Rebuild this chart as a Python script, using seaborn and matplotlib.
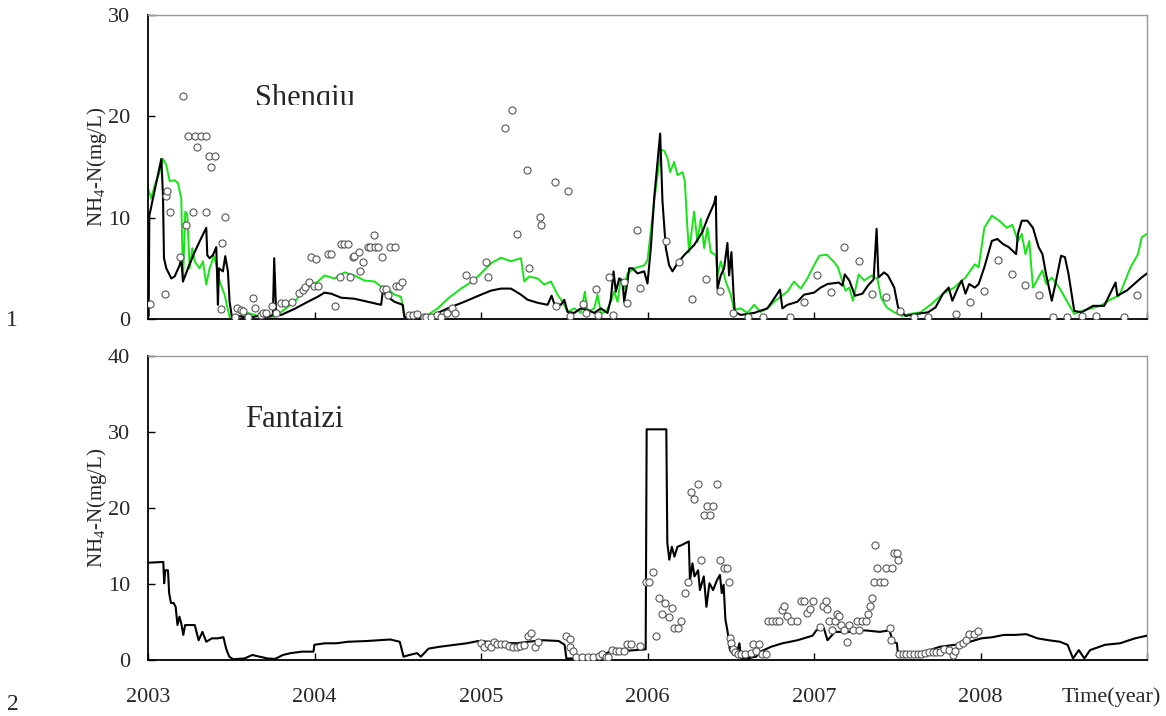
import numpy as np
import pandas as pd
import matplotlib
matplotlib.use("Agg")
import matplotlib.pyplot as plt
import seaborn as sns
from matplotlib.transforms import Bbox, TransformedBbox

# ---------------- data (decimal year, NH4-N mg/L) ----------------
# Panel 1: Shenqiu, simulated (black)
sq_black_year = [2003.004, 2003.008, 2003.080, 2003.090, 2003.096, 2003.110, 2003.140, 2003.160, 2003.190, 2003.200,
                 2003.210, 2003.240, 2003.280, 2003.320, 2003.350, 2003.356, 2003.370, 2003.390, 2003.410, 2003.420,
                 2003.426, 2003.450, 2003.464, 2003.480, 2003.490, 2003.504, 2003.540, 2003.600, 2003.660, 2003.720,
                 2003.750, 2003.758, 2003.770, 2003.800, 2003.880, 2003.960, 2004.020, 2004.060, 2004.100, 2004.160,
                 2004.240, 2004.320, 2004.400, 2004.410, 2004.440, 2004.480, 2004.530, 2004.540, 2004.600, 2004.700,
                 2004.800, 2004.900, 2005.000, 2005.060, 2005.120, 2005.180, 2005.240, 2005.280, 2005.340, 2005.400,
                 2005.424, 2005.440, 2005.480, 2005.500, 2005.520, 2005.560, 2005.600, 2005.640, 2005.680, 2005.720,
                 2005.760, 2005.780, 2005.796, 2005.810, 2005.830, 2005.850, 2005.860, 2005.880, 2005.890, 2005.910,
                 2005.940, 2005.980, 2006.000, 2006.020, 2006.040, 2006.076, 2006.090, 2006.110, 2006.130, 2006.150,
                 2006.180, 2006.220, 2006.280, 2006.330, 2006.360, 2006.400, 2006.410, 2006.420, 2006.440, 2006.460,
                 2006.480, 2006.490, 2006.504, 2006.516, 2006.524, 2006.560, 2006.640, 2006.720, 2006.760, 2006.796,
                 2006.810, 2006.840, 2006.900, 2006.940, 2007.000, 2007.040, 2007.081, 2007.149, 2007.171, 2007.185,
                 2007.212, 2007.246, 2007.291, 2007.324, 2007.358, 2007.376, 2007.387, 2007.421, 2007.444, 2007.482,
                 2007.505, 2007.550, 2007.617, 2007.685, 2007.730, 2007.775, 2007.809, 2007.831, 2007.865, 2007.887,
                 2007.910, 2007.932, 2007.966, 2007.989, 2008.023, 2008.068, 2008.101, 2008.135, 2008.169, 2008.214,
                 2008.225, 2008.248, 2008.282, 2008.315, 2008.349, 2008.372, 2008.394, 2008.428, 2008.450, 2008.484,
                 2008.507, 2008.529, 2008.563, 2008.608, 2008.676, 2008.743, 2008.811, 2008.822, 2008.878, 2008.923,
                 2008.968, 2009.000]
sq_black_val = [0.3, 10.2, 15.8, 12.2, 6.0, 5.0, 4.0, 4.2, 5.3, 6.0,
                3.7, 5.0, 6.6, 8.0, 9.0, 6.3, 6.0, 6.3, 7.1, 1.4,
                5.0, 4.7, 6.2, 4.7, 1.7, 0.2, 0.3, 0.1, 0.3, 0.2,
                0.4, 6.0, 0.4, 0.4, 1.0, 1.7, 2.2, 2.6, 2.5, 2.1,
                2.0, 1.7, 1.4, 2.7, 2.2, 1.7, 1.4, 0.2, 0.2, 0.3,
                1.05, 1.7, 2.4, 2.8, 3.0, 3.0, 2.4, 1.9, 1.6, 1.4,
                2.3, 1.5, 1.4, 1.9, 0.7, 0.6, 1.05, 0.9, 0.6, 1.05,
                0.6, 2.0, 4.7, 2.7, 4.0, 3.7, 1.7, 3.7, 5.0, 5.0,
                4.5, 4.7, 3.5, 7.0, 11.9, 18.3, 11.6, 7.0, 5.3, 4.7,
                5.5, 6.3, 7.3, 8.6, 9.9, 11.4, 12.1, 3.0, 4.3, 5.0,
                7.5, 4.3, 6.6, 2.7, 0.7, 0.4, 0.6, 1.05, 2.0, 2.9,
                1.05, 1.4, 1.7, 2.4, 2.6, 3.1, 3.45, 3.6, 3.3, 4.4,
                3.8, 2.3, 2.5, 3.3, 3.9, 8.9, 4.1, 4.6, 4.3, 3.1,
                1.15, 0.3, 0.5, 0.66, 1.15, 2.5, 3.1, 1.8, 3.1, 3.8,
                2.5, 3.45, 3.1, 3.45, 5.1, 7.7, 7.9, 7.4, 7.1, 6.4,
                8.4, 9.7, 9.7, 9.0, 7.1, 6.4, 4.4, 1.8, 3.45, 6.25,
                6.1, 4.4, 0.8, 0.66, 1.3, 1.3, 3.6, 2.3, 2.8, 3.45,
                4.1, 4.5]

# Panel 1: Shenqiu, simulated (green)
sq_green_year = [2003.000, 2003.020, 2003.040, 2003.070, 2003.090, 2003.110, 2003.130, 2003.160, 2003.180, 2003.200,
                 2003.210, 2003.224, 2003.236, 2003.250, 2003.266, 2003.280, 2003.310, 2003.330, 2003.350, 2003.370,
                 2003.396, 2003.416, 2003.430, 2003.460, 2003.490, 2003.520, 2003.600, 2003.680, 2003.760, 2003.800,
                 2003.880, 2003.940, 2004.020, 2004.060, 2004.120, 2004.180, 2004.240, 2004.300, 2004.360, 2004.400,
                 2004.440, 2004.480, 2004.520, 2004.540, 2004.600, 2004.680, 2004.740, 2004.800, 2004.880, 2004.960,
                 2005.000, 2005.060, 2005.120, 2005.180, 2005.240, 2005.260, 2005.290, 2005.340, 2005.380, 2005.420,
                 2005.460, 2005.490, 2005.520, 2005.560, 2005.600, 2005.624, 2005.640, 2005.680, 2005.700, 2005.720,
                 2005.750, 2005.780, 2005.800, 2005.820, 2005.840, 2005.860, 2005.880, 2005.920, 2005.980, 2006.000,
                 2006.040, 2006.080, 2006.100, 2006.120, 2006.136, 2006.160, 2006.180, 2006.210, 2006.224, 2006.240,
                 2006.250, 2006.280, 2006.300, 2006.320, 2006.340, 2006.360, 2006.380, 2006.410, 2006.420, 2006.440,
                 2006.470, 2006.500, 2006.520, 2006.560, 2006.600, 2006.640, 2006.680, 2006.720, 2006.760, 2006.800,
                 2006.840, 2006.880, 2006.920, 2006.960, 2007.000, 2007.032, 2007.077, 2007.122, 2007.144, 2007.167,
                 2007.189, 2007.212, 2007.234, 2007.268, 2007.302, 2007.347, 2007.381, 2007.403, 2007.437, 2007.482,
                 2007.527, 2007.572, 2007.640, 2007.707, 2007.775, 2007.842, 2007.910, 2007.966, 2007.989, 2008.023,
                 2008.068, 2008.113, 2008.158, 2008.191, 2008.225, 2008.248, 2008.270, 2008.293, 2008.315, 2008.338,
                 2008.372, 2008.394, 2008.428, 2008.473, 2008.518, 2008.563, 2008.608, 2008.653, 2008.721, 2008.788,
                 2008.833, 2008.901, 2008.946, 2008.968, 2009.000]
sq_green_val = [12.9, 11.9, 13.2, 14.5, 15.8, 15.2, 13.6, 13.7, 13.4, 11.9,
                3.7, 10.6, 10.3, 5.0, 7.0, 5.7, 5.0, 5.7, 3.4, 5.0,
                6.2, 5.0, 3.7, 2.4, 0.2, 0.1, 0.6, 0.2, 0.2, 0.7,
                1.7, 2.9, 3.7, 4.3, 4.0, 4.6, 4.3, 3.8, 3.7, 3.2,
                3.0, 2.4, 2.2, 0.2, 0.2, 0.4, 1.05, 2.0, 3.0, 3.85,
                4.5, 5.5, 6.05, 5.7, 6.0, 3.7, 4.2, 4.0, 3.4, 3.7,
                2.4, 1.7, 0.7, 1.05, 0.6, 2.7, 0.7, 1.05, 2.4, 0.6,
                0.7, 1.7, 2.7, 1.7, 4.0, 3.0, 4.5, 5.0, 5.3, 5.8,
                11.6, 16.7, 16.6, 15.9, 14.5, 15.5, 14.2, 14.5, 13.6, 8.9,
                6.6, 10.6, 7.6, 9.9, 7.0, 9.0, 6.6, 6.3, 4.3, 5.7,
                3.7, 2.4, 0.9, 1.05, 0.6, 1.4, 0.7, 1.05, 1.7, 2.2,
                2.7, 3.7, 3.0, 4.0, 5.3, 6.25, 6.35, 5.6, 5.1, 3.9,
                2.8, 3.1, 1.8, 4.4, 3.8, 4.3, 3.95, 2.1, 1.15, 0.66,
                0.3, 0.5, 0.66, 1.5, 2.5, 3.1, 4.1, 5.4, 5.1, 9.0,
                10.2, 9.7, 9.0, 9.3, 7.7, 8.4, 6.4, 7.7, 3.1, 3.8,
                4.8, 3.45, 4.1, 3.1, 1.8, 0.5, 0.8, 1.0, 1.3, 2.0,
                2.3, 5.1, 6.4, 8.06, 8.4]

# Panel 1: Shenqiu, observed (circles)
sq_obs_year = [2003.010, 2003.104, 2003.110, 2003.116, 2003.134, 2003.190, 2003.210, 2003.230, 2003.240, 2003.270,
               2003.284, 2003.294, 2003.320, 2003.346, 2003.350, 2003.364, 2003.380, 2003.404, 2003.436, 2003.444,
               2003.460, 2003.520, 2003.532, 2003.556, 2003.570, 2003.600, 2003.630, 2003.640, 2003.680, 2003.690,
               2003.710, 2003.744, 2003.766, 2003.796, 2003.824, 2003.864, 2003.904, 2003.930, 2003.944, 2003.964,
               2003.980, 2003.996, 2004.010, 2004.024, 2004.080, 2004.100, 2004.126, 2004.156, 2004.160, 2004.180,
               2004.200, 2004.212, 2004.230, 2004.240, 2004.270, 2004.274, 2004.294, 2004.324, 2004.336, 2004.360,
               2004.362, 2004.380, 2004.404, 2004.410, 2004.430, 2004.440, 2004.456, 2004.484, 2004.490, 2004.510,
               2004.526, 2004.570, 2004.590, 2004.616, 2004.656, 2004.670, 2004.700, 2004.736, 2004.760, 2004.794,
               2004.824, 2004.844, 2004.910, 2004.950, 2005.030, 2005.040, 2005.144, 2005.186, 2005.216, 2005.274,
               2005.290, 2005.356, 2005.360, 2005.442, 2005.452, 2005.524, 2005.536, 2005.610, 2005.630, 2005.690,
               2005.704, 2005.770, 2005.792, 2005.860, 2005.876, 2005.936, 2005.954, 2006.114, 2006.188, 2006.268,
               2006.350, 2006.436, 2006.516, 2006.604, 2006.692, 2006.856, 2006.940, 2007.018, 2007.104, 2007.182,
               2007.268, 2007.349, 2007.432, 2007.518, 2007.601, 2007.687, 2007.854, 2007.937, 2008.022, 2008.104,
               2008.187, 2008.268, 2008.354, 2008.437, 2008.518, 2008.608, 2008.694, 2008.860, 2008.941]
sq_obs_val = [1.45, 2.5, 12.1, 12.6, 10.6, 6.15, 22.0, 9.3, 18.1, 10.6,
              18.1, 17.0, 18.1, 10.6, 18.1, 16.1, 15.0, 16.1, 0.95, 7.5,
              10.1, 0.2, 1.1, 0.9, 0.8, 0.2, 2.1, 1.1, 0.4, 0.55,
              0.55, 1.3, 0.6, 1.6, 1.6, 1.7, 2.6, 2.9, 3.2, 3.7,
              6.1, 3.3, 5.9, 3.3, 6.45, 6.45, 1.3, 4.1, 7.4, 7.4,
              7.4, 4.1, 6.1, 6.2, 6.65, 4.7, 5.6, 7.1, 7.1, 8.3,
              7.1, 7.1, 6.1, 3.0, 3.0, 2.4, 7.1, 7.1, 3.3, 3.3,
              3.7, 0.4, 0.4, 0.5, 0.2, 0.2, 0.2, 0.4, 0.2, 0.6,
              1.05, 0.6, 4.3, 3.8, 5.6, 4.1, 18.8, 20.6, 8.35, 14.7,
              5.0, 10.1, 9.3, 13.5, 1.3, 12.6, 0.3, 1.5, 0.6, 3.0,
              0.4, 4.1, 0.4, 3.7, 1.6, 8.8, 3.1, 7.7, 5.6, 2.0,
              3.9, 2.8, 0.6, 0.2, 0.2, 0.2, 1.7, 4.3, 2.7, 7.1,
              5.7, 2.5, 2.2, 0.8, 0.2, 0.2, 0.5, 1.7, 2.8, 5.8,
              4.4, 3.4, 2.4, 0.2, 0.2, 0.3, 0.3, 0.2, 2.4]

# Panel 2: Fantaizi, simulated (black)
ft_sim_year = [2003.000, 2003.092, 2003.097, 2003.104, 2003.120, 2003.127, 2003.138, 2003.154, 2003.166, 2003.177,
               2003.189, 2003.200, 2003.212, 2003.223, 2003.258, 2003.281, 2003.304, 2003.327, 2003.350, 2003.384,
               2003.419, 2003.453, 2003.469, 2003.488, 2003.511, 2003.580, 2003.626, 2003.718, 2003.764, 2003.810,
               2003.856, 2003.925, 2003.994, 2003.999, 2004.063, 2004.132, 2004.201, 2004.316, 2004.385, 2004.455,
               2004.512, 2004.535, 2004.570, 2004.616, 2004.639, 2004.685, 2004.754, 2004.846, 2004.915, 2004.984,
               2005.099, 2005.214, 2005.283, 2005.375, 2005.467, 2005.502, 2005.513, 2005.559, 2005.595, 2005.730,
               2005.775, 2005.865, 2005.989, 2005.995, 2006.113, 2006.119, 2006.131, 2006.146, 2006.162, 2006.180,
               2006.203, 2006.248, 2006.255, 2006.270, 2006.282, 2006.304, 2006.315, 2006.338, 2006.354, 2006.372,
               2006.394, 2006.417, 2006.435, 2006.446, 2006.457, 2006.468, 2006.480, 2006.495, 2006.518, 2006.541,
               2006.552, 2006.563, 2006.597, 2006.653, 2006.676, 2006.698, 2006.743, 2006.811, 2006.901, 2006.991,
               2007.014, 2007.059, 2007.081, 2007.126, 2007.216, 2007.306, 2007.396, 2007.453, 2007.475, 2007.498,
               2007.505, 2007.554, 2007.667, 2007.757, 2007.847, 2007.937, 2008.005, 2008.072, 2008.140, 2008.207,
               2008.275, 2008.342, 2008.410, 2008.477, 2008.523, 2008.556, 2008.590, 2008.624, 2008.658, 2008.748,
               2008.838, 2008.928, 2009.000]
ft_sim_val = [12.8, 12.9, 10.1, 11.8, 11.8, 8.8, 7.5, 7.5, 7.0, 4.6,
              5.7, 4.8, 3.3, 4.6, 4.6, 4.6, 2.6, 3.7, 2.4, 2.85,
              2.85, 3.0, 1.5, 0.44, 0.1, 0.2, 0.66, 0.2, 0.15, 0.66,
              0.9, 1.1, 1.1, 2.0, 2.2, 2.2, 2.4, 2.5, 2.6, 2.7,
              2.4, 0.44, 0.66, 0.9, 0.44, 1.5, 1.75, 2.0, 2.2, 2.5,
              2.3, 2.2, 2.4, 2.6, 2.5, 2.0, 0.2, 0.2, 0.2, 0.66,
              1.1, 1.2, 1.4, 30.35, 30.35, 15.4, 13.2, 14.9, 13.6, 14.9,
              15.1, 15.6, 10.5, 12.7, 11.0, 11.8, 9.2, 11.0, 7.0, 10.1,
              9.2, 10.5, 11.2, 8.8, 9.9, 5.3, 3.9, 1.3, 0.66, 1.3,
              2.2, 0.2, 0.2, 0.44, 1.1, 1.3, 1.75, 2.2, 2.6, 3.2,
              3.9, 4.2, 2.6, 3.7, 3.7, 3.9, 3.7, 3.9, 2.4, 2.2,
              0.66, 0.66, 1.1, 1.75, 2.0, 2.4, 2.85, 3.0, 3.3, 3.3,
              3.4, 2.85, 2.6, 2.4, 2.0, 0.2, 1.3, 0.2, 1.3, 2.0,
              2.2, 2.85, 3.2]

# Panel 2: Fantaizi, observed (circles)
ft_obs_year = [2005.000, 2005.018, 2005.041, 2005.060, 2005.076, 2005.099, 2005.122, 2005.145, 2005.168, 2005.191,
               2005.214, 2005.237, 2005.260, 2005.283, 2005.301, 2005.325, 2005.341, 2005.513, 2005.532, 2005.536,
               2005.550, 2005.571, 2005.605, 2005.640, 2005.674, 2005.707, 2005.725, 2005.748, 2005.764, 2005.786,
               2005.809, 2005.831, 2005.860, 2005.876, 2005.899, 2005.955, 2005.989, 2006.011, 2006.034, 2006.052,
               2006.068, 2006.090, 2006.108, 2006.128, 2006.146, 2006.162, 2006.185, 2006.203, 2006.225, 2006.243,
               2006.264, 2006.282, 2006.302, 2006.320, 2006.338, 2006.360, 2006.378, 2006.396, 2006.419, 2006.435,
               2006.457, 2006.477, 2006.491, 2006.493, 2006.502, 2006.514, 2006.523, 2006.541, 2006.563, 2006.586,
               2006.620, 2006.631, 2006.653, 2006.669, 2006.687, 2006.709, 2006.725, 2006.748, 2006.770, 2006.788,
               2006.806, 2006.822, 2006.840, 2006.860, 2006.896, 2006.919, 2006.939, 2006.957, 2006.975, 2006.995,
               2007.036, 2007.052, 2007.070, 2007.081, 2007.092, 2007.108, 2007.126, 2007.137, 2007.149, 2007.164,
               2007.182, 2007.198, 2007.212, 2007.234, 2007.257, 2007.273, 2007.291, 2007.311, 2007.324, 2007.336,
               2007.347, 2007.358, 2007.369, 2007.381, 2007.396, 2007.419, 2007.430, 2007.455, 2007.464, 2007.468,
               2007.482, 2007.498, 2007.505, 2007.509, 2007.532, 2007.554, 2007.577, 2007.599, 2007.622, 2007.644,
               2007.667, 2007.689, 2007.712, 2007.734, 2007.757, 2007.779, 2007.813, 2007.836, 2007.847, 2007.869,
               2007.892, 2007.914, 2007.932, 2007.959, 2007.986]
ft_obs_val = [2.2, 1.75, 2.05, 1.75, 2.4, 2.1, 2.1, 2.1, 1.85, 1.65,
              1.65, 1.85, 2.0, 3.1, 3.6, 1.75, 2.4, 3.2, 2.7, 1.75,
              1.2, 0.45, 0.35, 0.35, 0.45, 0.5, 0.8, 0.35, 0.45, 1.3,
              1.2, 1.2, 1.2, 2.1, 2.1, 1.85, 10.2, 10.2, 11.6, 3.2,
              8.2, 6.1, 7.5, 5.7, 6.9, 4.2, 4.2, 5.1, 8.8, 10.2,
              22.1, 21.2, 23.2, 13.2, 19.1, 20.2, 19.1, 20.2, 23.2, 13.2,
              12.1, 12.1, 10.2, 2.85, 2.2, 1.5, 1.1, 0.8, 0.8, 0.8,
              0.9, 2.1, 1.2, 2.1, 0.8, 0.8, 5.1, 5.1, 5.1, 5.1,
              6.6, 7.1, 5.8, 5.1, 5.1, 7.7, 7.7, 6.2, 6.7, 7.7,
              4.4, 7.1, 7.7, 6.7, 5.1, 4.0, 5.1, 6.1, 5.8, 4.6,
              4.0, 2.4, 4.6, 4.0, 5.1, 4.0, 5.1, 5.1, 6.1, 7.1,
              8.2, 10.2, 15.1, 12.1, 10.2, 10.2, 12.1, 4.2, 2.6, 12.1,
              14.1, 14.1, 13.2, 0.8, 0.8, 0.8, 0.8, 0.8, 0.8, 0.8,
              0.9, 1.1, 1.1, 1.1, 1.1, 1.5, 1.3, 0.66, 1.2, 2.0,
              2.2, 2.6, 3.4, 3.4, 3.8]

year_ticks = [2003, 2004, 2005, 2006, 2007, 2008, 2009]
year_labels = ["2003", "2004", "2005", "2006", "2007", "2008", ""]

# ---------------- style ----------------
sns.set_style("white")
plt.rcParams['font.family'] = ['Liberation Serif', 'DejaVu Serif']
plt.rcParams['mathtext.fontset'] = 'custom'
plt.rcParams['mathtext.rm'] = 'Liberation Serif'
plt.rcParams['mathtext.it'] = 'Liberation Serif:italic'

GREEN = '#14e614'
W, H = 1166, 716
fig = plt.figure(figsize=(W / 100, H / 100), dpi=100)
ax1 = fig.add_axes([148 / W, 1 - 319 / H, 999 / W, 304 / H])
ax2 = fig.add_axes([148 / W, 1 - 660 / H, 999 / W, 304 / H])

df_sqb = pd.DataFrame({'year': sq_black_year, 'val': sq_black_val})
df_sqg = pd.DataFrame({'year': sq_green_year, 'val': sq_green_val})
df_sqo = pd.DataFrame({'year': sq_obs_year, 'val': sq_obs_val})
df_fts = pd.DataFrame({'year': ft_sim_year, 'val': ft_sim_val})
df_fto = pd.DataFrame({'year': ft_obs_year, 'val': ft_obs_val})

sns.lineplot(data=df_sqg, x='year', y='val', ax=ax1, color=GREEN, lw=1.4,
             estimator=None, sort=False, zorder=2)
sns.lineplot(data=df_sqb, x='year', y='val', ax=ax1, color='black', lw=1.5,
             estimator=None, sort=False, zorder=3)
sns.scatterplot(data=df_sqo, x='year', y='val', ax=ax1, marker='o', s=26,
                facecolor='white', edgecolor='#555555', linewidth=0.8, zorder=4)

sns.lineplot(data=df_fts, x='year', y='val', ax=ax2, color='black', lw=1.5,
             estimator=None, sort=False, zorder=3)
sns.scatterplot(data=df_fto, x='year', y='val', ax=ax2, marker='o', s=26,
                facecolor='white', edgecolor='#555555', linewidth=0.8, zorder=4)

for ax, ymax, step in [(ax1, 30, 10), (ax2, 40, 10)]:
    ax.set_xlim(2003, 2009)
    ax.set_ylim(0, ymax)
    ax.set_xticks(year_ticks)
    ax.set_yticks(np.arange(0, ymax + 1, step))
    ax.set_xlabel('')
    ax.set_ylabel(r'NH$_4$-N(mg/L)', fontsize=15, labelpad=-1)
    ax.tick_params(axis='both', direction='in', length=5, width=1, color='black',
                   labelsize=16, left=True, bottom=True)
    ax.tick_params(axis='y', pad=13)
    ax.tick_params(axis='x', pad=20)
    for s in ['left', 'bottom']:
        ax.spines[s].set_color('black')
        ax.spines[s].set_linewidth(1.3)
    for s in ['top', 'right']:
        ax.spines[s].set_color('#9a9a9a')
        ax.spines[s].set_linewidth(1.0)

ax1.set_xticklabels([])
ax2.set_xticklabels(year_labels)

t1 = ax1.text(2003.64, 21.0, 'Shenqiu', fontsize=22, va='baseline', ha='left')
t1.set_clip_box(TransformedBbox(Bbox([[2003.0, 21.15], [2009.0, 30.0]]), ax1.transData))
t1.set_clip_on(True)
ax2.text(2003.58, 30.6, 'Fantaizi', fontsize=22, va='baseline', ha='left')

fig.text(1111 / W, 1 - 702 / H, 'Time(year)', fontsize=16, ha='center', va='baseline')
fig.text(12 / W, 1 - 321 / H, '1', fontsize=17, ha='center', va='center')
fig.text(13 / W, 1 - 704 / H, '2', fontsize=17, ha='center', va='center')

fig.savefig('out.png', dpi=100)
